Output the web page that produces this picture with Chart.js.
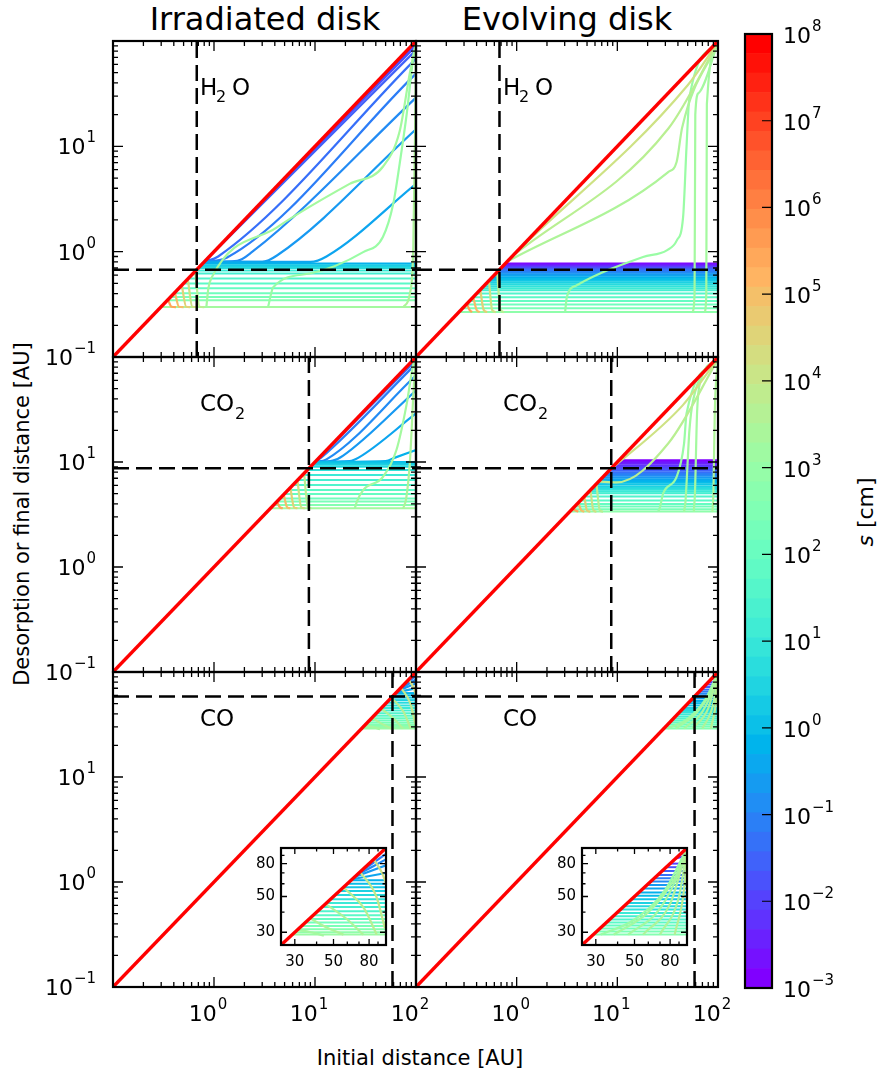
<!DOCTYPE html>
<html>
<head>
<meta charset="utf-8">
<title>Desorption distance</title>
<script src="https://cdn.jsdelivr.net/npm/chart.js@4.4.1/dist/chart.umd.min.js"></script>
<style>
  html, body { margin: 0; padding: 0; background: #fff; }
  body { width: 884px; height: 1081px; position: relative; overflow: hidden;
         font-family: "DejaVu Sans", sans-serif; color: #000; }
  .box { position: absolute; }
  .txt { position: absolute; line-height: 1; white-space: nowrap; }
</style>
</head>
<body>
<div class="txt" style="left:265px;top:3px;font-size:32px;transform:translateX(-50%)">Irradiated disk</div>
<div class="txt" style="left:567px;top:3px;font-size:32px;transform:translateX(-50%)">Evolving disk</div>
<div class="txt" style="left:420px;top:1048px;font-size:21px;transform:translateX(-50%)">Initial distance [AU]</div>
<div class="txt" style="left:22px;top:514px;font-size:21px;transform:translate(-50%,-50%) rotate(-90deg)">Desorption or final distance [AU]</div>
<div class="txt" style="left:866px;top:512px;font-size:22px;transform:translate(-50%,-50%) rotate(-90deg)"><i>s</i> [cm]</div>
<script>
// --------------------------------------------
// Colour scale (particle size s in cm)
// --------------------------------------------
const sizeExpMin = -3, sizeExpMax = 8;
const nSizes = 50;          // line colours, k = 0 (1e-3 cm) ... 49 (1e8 cm)
const nBands = 49;          // steps in the colour bar
const cbarTickExp = [-3, -2, -1, 0, 1, 2, 3, 4, 5, 6, 7, 8];

// Axes
const axisMin = 0.1, axisMax = 100;
const majorTicks = [0.1, 1, 10, 100];
const minorMult = [2, 3, 4, 5, 6, 7, 8, 9];
const yLabelExp = [-1, 0, 1];
const xLabelExp = [0, 1, 2];
const insetMin = 25, insetMax = 100;
const insetMajor = [30, 50, 80];
const insetMinor = [40, 60, 70, 90];

// --------------------------------------------
// H2O, irradiated disk
// --------------------------------------------
const irrH2oSnow = 0.675;
const irrH2oLevels = [0.298, 0.345, 0.371, 0.402, 0.449, 0.50, 0.557, 0.622, 0.664, 0.70, 0.725, 0.745, 0.77];
const irrH2oLevelK = [28, 25, 24, 23, 22, 21, 20, 19, 18, 16, 15, 14, 12];
const irrH2oCurves = [
  [11, [[0.8, 0.8], [9, 0.8], [13, 0.9], [100, 4.4]]],
  [10, [[0.8, 0.8], [3.0, 0.8], [4.2, 0.92], [100, 14.5]]],
  [9, [[0.8, 0.8], [1.7, 0.82], [2.4, 1.0], [100, 29]]],
  [8, [[0.8, 0.8], [1.35, 0.88], [100, 49]]],
  [7, [[0.8, 0.8], [1.1, 0.9], [100, 68]]],
  [6, [[0.82, 0.82], [100, 82]]],
  [5, [[0.85, 0.85], [100, 90]]],
  [4, [[0.9, 0.9], [100, 95]]],
  [28, [[0.84, 0.298], [0.88, 0.45], [0.95, 0.57], [4.2, 1.7], [22, 4.4], [47, 6.4], [69, 14], [87, 50], [100, 96]]],
  [27, [[3.43, 0.298], [3.86, 0.46], [8.9, 0.62], [30, 0.99], [47, 1.38], [59.6, 2.86], [69, 6.9], [81, 20.4], [94, 70], [100, 98]]],
  [29, [[75, 0.298], [87, 0.40], [94, 1.1], [98, 14], [100, 88]]],
  [30, [[0.65, 0.65], [0.72, 0.30], [0.8, 0.298]]],
  [32, [[0.55, 0.55], [0.61, 0.30], [0.68, 0.298]]],
  [34, [[0.48, 0.48], [0.53, 0.30], [0.58, 0.298]]],
  [36, [[0.41, 0.41], [0.45, 0.30], [0.5, 0.298]]],
  [38, [[0.35, 0.35], [0.38, 0.30], [0.42, 0.298]]]
];

// H2O, evolving disk
const evoH2oSnow = 0.675;
const evoH2oLevels = [0.77, 0.755, 0.74, 0.725, 0.71, 0.695, 0.68, 0.665, 0.65, 0.63, 0.61, 0.59, 0.57, 0.55, 0.53, 0.51, 0.49, 0.47, 0.45, 0.43, 0.40, 0.37, 0.34, 0.315, 0.29, 0.267];
const evoH2oLevelK = [0, 1, 2, 3, 4, 5, 6, 7, 8, 9, 10, 11, 12, 13, 14, 15, 16, 17, 18, 19, 20, 21, 22, 23, 24, 26];
const evoH2oCurves = [
  [27, [[3.03, 0.267], [3.15, 0.37], [3.96, 0.48], [18, 0.89], [31, 1.03], [39, 1.28], [45, 2.13], [48.7, 10], [52, 29], [100, 96]]],
  [28, [[56, 0.267], [58.5, 0.4], [59.5, 20], [64, 32], [100, 96]]],
  [28, [[74, 0.267], [76.5, 0.4], [77.5, 25], [100, 96]]],
  [29, [[0.8, 0.8], [32, 5.7], [38.8, 7.1], [44, 15], [100, 96]]],
  [30, [[0.9, 0.9], [32, 14.7], [100, 96]]],
  [32, [[1.0, 1.0], [50, 38], [100, 98]]],
  [30, [[0.64, 0.64], [0.69, 0.28], [0.75, 0.267]]],
  [32, [[0.53, 0.53], [0.57, 0.28], [0.62, 0.267]]],
  [34, [[0.435, 0.435], [0.47, 0.28], [0.51, 0.267]]],
  [36, [[0.37, 0.37], [0.4, 0.28], [0.43, 0.267]]],
  [38, [[0.32, 0.32], [0.34, 0.28], [0.36, 0.267]]]
];

// CO2, irradiated disk
const irrCo2Snow = 8.7;
const irrCo2Levels = [3.63, 3.9, 4.2, 4.5, 4.97, 5.4, 6.05, 6.75, 7.5, 8.4, 9.0, 9.4, 9.7, 10.0];
const irrCo2LevelK = [28, 25, 24, 23, 22, 21, 20, 19, 18, 17, 16, 15, 14, 13];
const irrCo2Curves = [
  [12, [[10, 10], [50, 10.2], [62, 11], [100, 13]]],
  [11, [[10, 10], [22, 10.2], [27, 11], [100, 29]]],
  [10, [[10, 10], [15, 10.3], [19, 11.5], [100, 48]]],
  [9, [[10, 10], [13, 10.6], [100, 67]]],
  [8, [[10, 10], [11.5, 11], [100, 86]]],
  [7, [[10.5, 10.5], [100, 93]]],
  [28, [[24.8, 3.63], [26, 4.2], [30, 5.4], [47, 7.2], [64, 13], [81, 36], [94, 86], [100, 100]]],
  [29, [[74.8, 3.63], [80, 4.5], [87, 10], [95.5, 56], [100, 100]]],
  [30, [[7.8, 7.8], [8.5, 3.7], [9.2, 3.63]]],
  [32, [[6.7, 6.7], [7.3, 3.7], [7.9, 3.63]]],
  [34, [[5.7, 5.7], [6.2, 3.7], [6.7, 3.63]]],
  [36, [[4.9, 4.9], [5.3, 3.7], [5.7, 3.63]]],
  [38, [[4.2, 4.2], [4.5, 3.7], [4.8, 3.63]]]
];

// CO2, evolving disk
const evoCo2Snow = 8.7;
const evoCo2Levels = [10.4, 10.0, 9.65, 9.3, 8.95, 8.6, 8.3, 8.0, 7.7, 7.4, 7.1, 6.85, 6.6, 6.35, 6.1, 5.85, 5.65, 5.45, 5.25, 5.05, 4.68, 4.3, 3.99, 3.76, 3.55, 3.37];
const evoCo2LevelK = [0, 1, 2, 3, 4, 5, 6, 7, 8, 9, 10, 11, 12, 13, 14, 15, 16, 17, 18, 19, 20, 21, 22, 23, 24, 26];
const evoCo2Curves = [
  [27, [[25.5, 3.37], [26.5, 3.7], [28.6, 5.05], [38.8, 7.2], [46, 15], [48.7, 29], [100, 95]]],
  [28, [[46, 3.37], [47.5, 4.2], [52, 20], [56.6, 38.8], [100, 95]]],
  [28, [[57.5, 3.37], [59, 5], [62, 30], [66, 56], [100, 95]]],
  [29, [[88, 3.37], [90, 5], [93, 31], [100, 95]]],
  [30, [[6.5, 6.5], [9.9, 6.4], [32, 15], [100, 95]]],
  [32, [[8, 8], [45, 35], [100, 97]]],
  [30, [[6.2, 6.2], [6.7, 3.45], [7.2, 3.37]]],
  [32, [[5.4, 5.4], [5.8, 3.45], [6.2, 3.37]]],
  [34, [[4.7, 4.7], [5.0, 3.45], [5.4, 3.37]]],
  [36, [[4.1, 4.1], [4.4, 3.45], [4.7, 3.37]]],
  [38, [[3.6, 3.6], [3.85, 3.45], [4.1, 3.37]]]
];

// CO, irradiated disk (also shown in the inset)
const irrCoSnow = 58.5;
const irrCoLevels = [29, 30, 31.3, 32.8, 34.5, 36.3, 38.3, 40.5, 43, 45.5, 48, 51, 54, 57, 60, 63];
const irrCoLevelK = [27, 26, 25, 24, 23, 22, 21, 20, 19, 18, 17, 16, 15, 14, 13, 12];
const irrCoCurves = [
  [11, [[64, 64], [100, 70]]],
  [10, [[66, 66], [100, 78]]],
  [9, [[68, 68], [100, 85]]],
  [8, [[70, 70], [100, 92]]],
  [28, [[31, 31], [37, 30], [44, 28.6]]],
  [29, [[36.6, 36.6], [46, 32], [57, 29]]],
  [29, [[45, 45], [60, 36], [74, 29]]],
  [30, [[57, 57], [75, 42], [88.5, 29]]],
  [31, [[71, 71], [88, 50], [98.6, 31.7]]],
  [32, [[85, 85], [95, 70], [100, 60]]]
];

// CO, evolving disk (also shown in the inset)
const evoCoSnow = 58.5;
const evoCoLevels = [29, 30.3, 31.6, 33, 34.5, 36, 37.7, 39.5, 41.5, 43.5, 45.5, 48, 50.5, 53, 56, 59, 62, 65, 68, 72, 76, 80];
const evoCoLevelK = [25, 24, 23, 22, 21, 20, 19, 18, 17, 16, 15, 14, 13, 12, 11, 10, 9, 8, 7, 6, 5, 4];
const evoCoCurves = [
  [2, [[86, 86], [100, 90]]],
  [0, [[91, 91], [100, 95]]],
  [27, [[32, 29], [50, 36], [75, 55], [100, 100]]],
  [28, [[38, 29], [60, 40], [85, 65], [100, 100]]],
  [28, [[46, 29], [70, 42], [92, 75], [100, 100]]],
  [29, [[56, 29], [80, 45], [96, 85], [100, 100]]],
  [29, [[70, 29], [90, 50], [100, 100]]],
  [30, [[85, 29], [97, 60], [100, 100]]]
];

// --------------------------------------------
// Helpers
// --------------------------------------------
const FONT = '"DejaVu Sans", sans-serif';

// matplotlib 'rainbow'
function rainbow(t) {
  const r = Math.min(1, Math.abs(2 * t - 0.5));
  const g = Math.sin(Math.PI * t);
  const b = Math.cos(Math.PI * t / 2);
  return `rgb(${Math.round(r * 255)},${Math.round(g * 255)},${Math.round(b * 255)})`;
}
const kColor = k => rainbow(k / (nSizes - 1));

function lineSet(pts, k, width, extra) {
  return Object.assign({
    data: pts.map(p => ({ x: p[0], y: p[1] })),
    borderColor: kColor(k),
    borderWidth: width || 2,
    order: 60 - k
  }, extra || {});
}

function panelSets(levels, levelK, curves, snow, lo, hi, withDash) {
  const sets = [];
  levels.forEach((v, i) => sets.push(lineSet([[v, v], [hi, v]], levelK[i])));
  curves.forEach(c => sets.push(lineSet(c[1], c[0], 2.2, { cubicInterpolationMode: 'monotone' })));
  sets.push(lineSet([[lo, lo], [hi, hi]], nSizes - 1, 3.4));
  if (withDash) {
    const dash = { borderColor: '#000', borderWidth: 2.5, borderDash: [16, 7], order: 0 };
    sets.push(Object.assign(lineSet([[snow, lo], [snow, hi]], 0), dash));
    sets.push(Object.assign(lineSet([[lo, snow], [hi, snow]], 0), dash));
  }
  return sets;
}

// "10" with a raised exponent
function drawPow(ctx, exp, x, y, align) {
  const e = exp < 0 ? '\u2212' + (-exp) : String(exp);
  ctx.font = `22px ${FONT}`;
  const wb = ctx.measureText('10').width;
  ctx.font = `15px ${FONT}`;
  const we = ctx.measureText(e).width;
  const w = wb + 1 + we;
  const x0 = align === 'right' ? x - w : align === 'center' ? x - w / 2 : x;
  ctx.textAlign = 'left';
  ctx.textBaseline = 'alphabetic';
  ctx.font = `22px ${FONT}`;
  ctx.fillText('10', x0, y);
  ctx.font = `15px ${FONT}`;
  ctx.fillText(e, x0 + wb + 1, y - 12);
}

// species label, parts: [text, dx, dy, size]
const speciesParts = {
  h2o: [['H', 0, 0, 23], ['2', 16, 7, 16], ['O', 32, 0, 23]],
  co2: [['CO', 0, 0, 23], ['2', 35, 8, 16]],
  co: [['CO', 0, 0, 23]]
};

const framePlugin = {
  id: 'frame',
  beforeDraw(chart, args, o) {
    if (!o.fill) return;
    const a = chart.chartArea;
    chart.ctx.save();
    chart.ctx.fillStyle = '#fff';
    chart.ctx.fillRect(a.left, a.top, a.right - a.left, a.bottom - a.top);
    chart.ctx.restore();
  },
  afterDatasetsDraw(chart, args, o) {
    const { ctx, chartArea: a } = chart;
    const xs = chart.scales.x, ys = chart.scales.y;
    ctx.save();
    ctx.strokeStyle = '#000';
    ctx.fillStyle = '#000';
    const tick = (vals, len) => {
      ctx.beginPath();
      vals.forEach(v => {
        if (v < xs.min || v > xs.max) return;
        const px = xs.getPixelForValue(v);
        ctx.moveTo(px, a.bottom); ctx.lineTo(px, a.bottom - len);
        ctx.moveTo(px, a.top); ctx.lineTo(px, a.top + len);
      });
      vals.forEach(v => {
        if (v < ys.min || v > ys.max) return;
        const py = ys.getPixelForValue(v);
        ctx.moveTo(a.left, py); ctx.lineTo(a.left + len, py);
        ctx.moveTo(a.right, py); ctx.lineTo(a.right - len, py);
      });
      ctx.stroke();
    };
    ctx.lineWidth = 1.3;
    tick(o.major, o.majorLen);
    tick(o.minor, o.minorLen);

    ctx.lineWidth = 2.2;
    ctx.strokeRect(a.left, a.top, a.right - a.left, a.bottom - a.top);

    if (o.yPow) o.yPow.forEach(e => drawPow(ctx, e, a.left - 17, ys.getPixelForValue(Math.pow(10, e)) + 8, 'right'));
    if (o.xPow) o.xPow.forEach(e => drawPow(ctx, e, xs.getPixelForValue(Math.pow(10, e)) - 6, a.bottom + 34, 'center'));
    if (o.numLabels) {
      ctx.font = `15px ${FONT}`;
      ctx.textBaseline = 'middle';
      o.numLabels.forEach(v => {
        ctx.textAlign = 'right';
        ctx.fillText(String(v), a.left - 6, ys.getPixelForValue(v));
        ctx.textAlign = 'center';
        ctx.fillText(String(v), xs.getPixelForValue(v), a.bottom + 17);
      });
    }
    if (o.species) {
      ctx.textAlign = 'left';
      ctx.textBaseline = 'alphabetic';
      speciesParts[o.species].forEach(p => {
        ctx.font = `${p[3]}px ${FONT}`;
        ctx.fillText(p[0], a.left + 87 + p[1], a.top + 54 + p[2]);
      });
    }
    ctx.restore();
  }
};

function makeChart(left, top, w, h, pad, config) {
  const div = document.createElement('div');
  div.className = 'box';
  div.style.left = (left - pad.left) + 'px';
  div.style.top = (top - pad.top) + 'px';
  const cv = document.createElement('canvas');
  const W = w + pad.left + pad.right, H = h + pad.top + pad.bottom;
  cv.width = W; cv.height = H;
  cv.style.width = W + 'px'; cv.style.height = H + 'px';
  div.appendChild(cv);
  document.body.appendChild(div);
  config.options.layout = { padding: pad };
  return new Chart(cv, config);
}

function lineOptions(lo, hi, frame) {
  return {
    responsive: false, animation: false, devicePixelRatio: 1, events: [],
    plugins: { legend: { display: false }, tooltip: { enabled: false }, frame: frame },
    elements: { point: { radius: 0 }, line: { tension: 0, borderJoinStyle: 'round' } },
    scales: {
      x: { type: 'logarithmic', min: lo, max: hi, display: false },
      y: { type: 'logarithmic', min: lo, max: hi, display: false }
    }
  };
}

// --------------------------------------------
// Panels
// --------------------------------------------
const colX = [113, 416, 718];
const rowY = [41, 357, 672, 987];
const minorTicks = [];
majorTicks.slice(0, 3).forEach(d => minorMult.forEach(m => minorTicks.push(d * m)));

const panels = [
  { r: 0, c: 0, sp: 'h2o', lv: irrH2oLevels, lk: irrH2oLevelK, cu: irrH2oCurves, snow: irrH2oSnow },
  { r: 0, c: 1, sp: 'h2o', lv: evoH2oLevels, lk: evoH2oLevelK, cu: evoH2oCurves, snow: evoH2oSnow },
  { r: 1, c: 0, sp: 'co2', lv: irrCo2Levels, lk: irrCo2LevelK, cu: irrCo2Curves, snow: irrCo2Snow },
  { r: 1, c: 1, sp: 'co2', lv: evoCo2Levels, lk: evoCo2LevelK, cu: evoCo2Curves, snow: evoCo2Snow },
  { r: 2, c: 0, sp: 'co', lv: irrCoLevels, lk: irrCoLevelK, cu: irrCoCurves, snow: irrCoSnow },
  { r: 2, c: 1, sp: 'co', lv: evoCoLevels, lk: evoCoLevelK, cu: evoCoCurves, snow: evoCoSnow }
];

panels.forEach(p => {
  const left = colX[p.c], top = rowY[p.r];
  const w = colX[p.c + 1] - left, h = rowY[p.r + 1] - top;
  makeChart(left, top, w, h, { left: 110, right: 12, top: 12, bottom: 55 }, {
    type: 'line',
    data: { datasets: panelSets(p.lv, p.lk, p.cu, p.snow, axisMin, axisMax, true) },
    options: lineOptions(axisMin, axisMax, {
      major: majorTicks, minor: minorTicks, majorLen: 10, minorLen: 5,
      yPow: p.c === 0 ? yLabelExp : null,
      xPow: p.r === 2 ? xLabelExp : null,
      species: p.sp
    }),
    plugins: [framePlugin]
  });
});

// insets (CO, zoom on the upper right corner)
[281, 582].forEach((left, i) => {
  const p = panels[4 + i];
  makeChart(left, 848, 105, 97, { left: 40, right: 10, top: 10, bottom: 30 }, {
    type: 'line',
    data: { datasets: panelSets(p.lv, p.lk, p.cu, p.snow, insetMin, insetMax, false) },
    options: lineOptions(insetMin, insetMax, {
      major: insetMajor, minor: insetMinor, majorLen: 6, minorLen: 3.5,
      numLabels: insetMajor, fill: true
    }),
    plugins: [framePlugin]
  });
});

// --------------------------------------------
// Colour bar
// --------------------------------------------
const bandIdx = [];
for (let i = nBands - 1; i >= 0; i--) bandIdx.push(i);

const cbarPlugin = {
  id: 'cbar',
  afterDatasetsDraw(chart) {
    const { ctx, chartArea: a } = chart;
    const cs = chart.scales.c;
    ctx.save();
    ctx.strokeStyle = '#000';
    ctx.fillStyle = '#000';
    ctx.lineWidth = 1.2;
    ctx.beginPath();
    cbarTickExp.forEach(e => {
      const py = cs.getPixelForValue(e);
      ctx.moveTo(a.right, py); ctx.lineTo(a.right - 10, py);
    });
    ctx.stroke();
    ctx.lineWidth = 2.2;
    ctx.strokeRect(a.left, a.top, a.right - a.left, a.bottom - a.top);
    cbarTickExp.forEach(e => drawPow(ctx, e, a.right + 11, cs.getPixelForValue(e) + 9, 'left'));
    ctx.restore();
  }
};

makeChart(745, 34, 27, 954, { left: 10, right: 112, top: 20, bottom: 20 }, {
  type: 'bar',
  data: {
    labels: bandIdx.map(String),
    datasets: [{
      data: bandIdx.map(() => [0, 1]),
      backgroundColor: bandIdx.map(i => rainbow(i / (nBands - 1))),
      borderWidth: 0, barPercentage: 1, categoryPercentage: 1
    }]
  },
  options: {
    indexAxis: 'y', responsive: false, animation: false, devicePixelRatio: 1, events: [],
    plugins: { legend: { display: false }, tooltip: { enabled: false } },
    scales: {
      x: { type: 'linear', min: 0, max: 1, display: false },
      y: { type: 'category', display: false },
      c: { type: 'linear', axis: 'y', min: sizeExpMin, max: sizeExpMax, offset: false, display: false }
    }
  },
  plugins: [cbarPlugin]
});
</script>
</body>
</html>
